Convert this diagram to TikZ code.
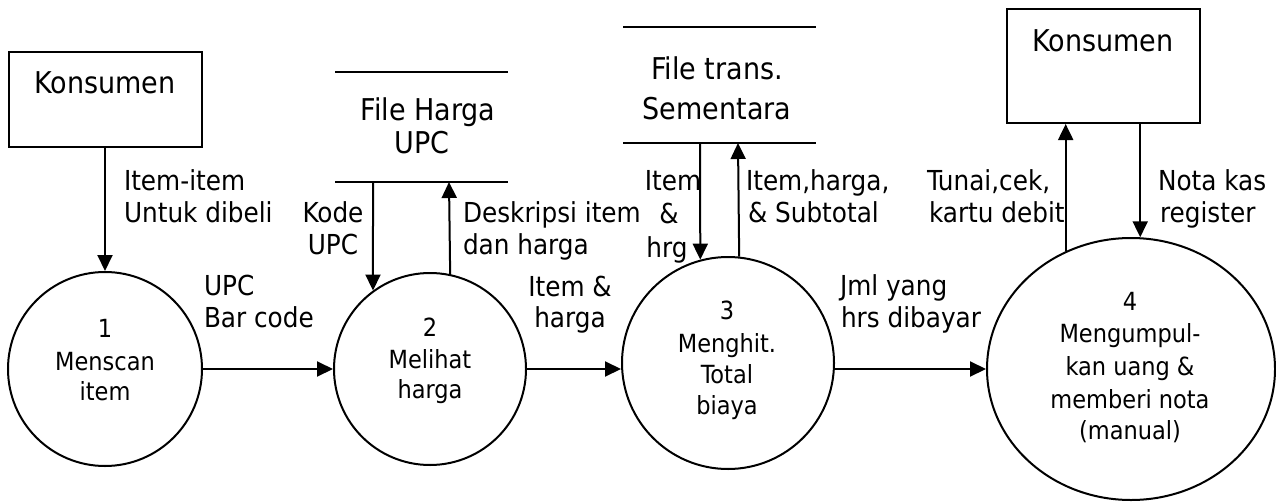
\documentclass[tikz,border=0pt]{standalone}
\usepackage{fontspec}
\setmainfont{DejaVu Sans Condensed}
\usetikzlibrary{arrows.meta,shapes.geometric}
\begin{document}
\begin{tikzpicture}[x=1pt,y=-1pt,line width=2pt,
  flow/.style={-{Triangle[length=16pt,width=15pt]}},
  proc/.style={draw,circle,inner sep=0pt,minimum size=#1},
  ent/.style={draw,rectangle,inner sep=0pt,minimum width=193pt,minimum height=#1},
  lbl/.style={inner sep=0pt,font=\fontsize{27.5}{32}\selectfont},
  lw/.style={lbl,anchor=base west},
  lc/.style={lbl,anchor=base},
  ptxt/.style={inner sep=0pt,font=\fontsize{25}{30}\selectfont,anchor=base},
  btxt/.style={inner sep=0pt,font=\fontsize{30}{36}\selectfont,anchor=base},
  storeline/.style={line width=2pt}]
\fill[white] (0,0) rectangle (1276,503);
\useasboundingbox (0,0) rectangle (1276,503);

% external entities
\node[ent=95pt] (konsA) at (105,99.5) {};
\node[btxt] (konsAt) at (105,93) {Konsumen};
\node[ent=114pt] (konsB) at (1103,66) {};
\node[btxt] (konsBt) at (1103,52) {Konsumen};

% processes
\node[proc=194pt] (c1) at (105,369) {};
\node[proc=192pt] (c2) at (430,369) {};
\node[proc=212pt] (c3) at (728,363) {};
\node[draw,ellipse,inner sep=0pt,minimum width=288pt,minimum height=262pt] (c4) at (1131,369) {};

\node[ptxt] (c1a) at (105,337) {1};
\node[ptxt] (c1b) at (105,370) {Menscan};
\node[ptxt] (c1c) at (105,400) {item};

\node[ptxt] (c2a) at (430,336) {2};
\node[ptxt] (c2b) at (430,368) {Melihat};
\node[ptxt] (c2c) at (430,398) {harga};

\node[ptxt] (c3a) at (727,319) {3};
\node[ptxt] (c3b) at (727,352) {Menghit.};
\node[ptxt] (c3c) at (727,383) {Total};
\node[ptxt] (c3d) at (727,414) {biaya};

\node[ptxt] (c4a) at (1130,310) {4};
\node[ptxt] (c4b) at (1130,342) {Mengumpul-};
\node[ptxt] (c4c) at (1130,375) {kan uang \&};
\node[ptxt] (c4d) at (1130,408) {memberi nota};
\node[ptxt] (c4e) at (1130,439) {(manual)};

% data stores
\coordinate (s1l) at (335,72);  \coordinate (s1r) at (508,72);
\coordinate (s1bl) at (335,182); \coordinate (s1br) at (508,182);
\draw[storeline] (s1l) -- (s1r);
\draw[storeline] (s1bl) -- (s1br);
\node[btxt] (s1a) at (428,120) {File Harga};
\node[btxt] (s1b) at (422,153) {UPC};

\coordinate (s2l) at (623,27);  \coordinate (s2r) at (816,27);
\coordinate (s2bl) at (623,143); \coordinate (s2br) at (816,143);
\draw[storeline] (s2l) -- (s2r);
\draw[storeline] (s2bl) -- (s2br);
\node[btxt] (s2a) at (717,79) {File trans.};
\node[btxt] (s2b) at (717,119) {Sementara};

% connectors
\draw[flow] (konsA.south) -- (c1.north);
\draw[flow] (c1.east) -- (c2.west);
\draw[flow] (c2.east) -- (c2.east -| c3.west);
\draw[flow] (c3.east |- c4.west) -- (c4.west);

\coordinate (s1d) at (373,182);
\coordinate (s1u) at (449,182);
\draw[flow] (s1d) -- (c2.126.4);
\draw[flow] (c2.78.6) -- (s1u);

\coordinate (s2d) at (700,143);
\coordinate (s2u) at (738,143);
\draw[flow] (s2d) -- (c3.105.3);
\draw[flow] (c3.84.6) -- (s2u);

\draw[flow] (c4.119.55) -- (c4.119.55 |- konsB.south);
\draw[flow] (c4.86.06 |- konsB.south) -- (c4.86.06);

% labels
\node[lw] (l1a) at (123,190) {Item-item};
\node[lw] (l1b) at (123,222) {Untuk dibeli};
\node[lc] (l2a) at (333,222) {Kode};
\node[lc] (l2b) at (333,254) {UPC};
\node[lw] (l3a) at (462,222) {Deskripsi item};
\node[lw] (l3b) at (462,254) {dan harga};
\node[lw] (l4a) at (203,295) {UPC};
\node[lw] (l4b) at (203,327) {Bar code};
\node[lc] (l5a) at (570,296) {Item \&};
\node[lc] (l5b) at (570,327) {harga};
\node[lc] (l6a) at (673,190) {Item};
\node[lc] (l6b) at (669,223) {\&};
\node[lc] (l6c) at (667,257) {hrg};
\node[lw] (l7a) at (745,190) {Item,harga,};
\node[lw] (l7b) at (747,222) {\& Subtotal};
\node[lw] (l8a) at (839,295) {Jml yang};
\node[lw] (l8b) at (840,327) {hrs dibayar};
\node[lw] (l9a) at (926,190) {Tunai,cek,};
\node[lw] (l9b) at (928,222) {kartu debit};
\node[lw] (l10a) at (1157,190) {Nota kas};
\node[lw] (l10b) at (1159,222) {register};
\end{tikzpicture}
\end{document}
